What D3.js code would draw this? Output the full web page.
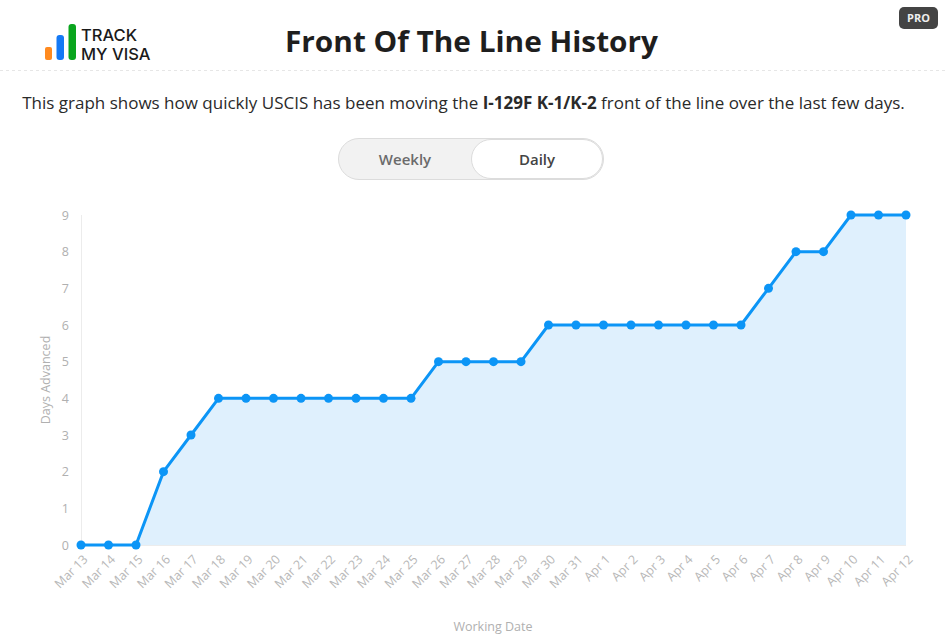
<!DOCTYPE html>
<html><head><meta charset="utf-8">
<script src="https://cdn.jsdelivr.net/npm/d3@7"></script>
<style>
body{margin:0;background:#fff;}
svg{display:block;}
</style></head>
<body>
<svg id="c" width="945" height="640"></svg>
<script>
const dates = ["Mar 13","Mar 14","Mar 15","Mar 16","Mar 17","Mar 18","Mar 19","Mar 20","Mar 21","Mar 22","Mar 23","Mar 24","Mar 25","Mar 26","Mar 27","Mar 28","Mar 29","Mar 30","Mar 31","Apr 1","Apr 2","Apr 3","Apr 4","Apr 5","Apr 6","Apr 7","Apr 8","Apr 9","Apr 10","Apr 11","Apr 12"];
const daysAdvanced = [0,0,0,2,3,4,4,4,4,4,4,4,4,5,5,5,5,6,6,6,6,6,6,6,6,7,8,8,9,9,9];
const yTicks = [0,1,2,3,4,5,6,7,8,9];

const svg = d3.select("#c");
const font = "'Open Sans', 'Noto Sans', sans-serif";

// Logo
const logo = svg.append("g");
logo.append("rect").attr("x",45).attr("y",47).attr("width",7).attr("height",13).attr("rx",2).attr("fill","#ff8a1f");
logo.append("rect").attr("x",56.5).attr("y",35).attr("width",7.5).attr("height",25).attr("rx",3).attr("fill","#1479f5");
logo.append("rect").attr("x",68.5).attr("y",24).attr("width",7.5).attr("height",36).attr("rx",3).attr("fill","#0aa51e");
logo.append("text").attr("x",81).attr("y",41).text("TRACK").attr("font-family","Inter, 'Noto Sans', sans-serif").attr("font-size",16.5).attr("font-weight",500).attr("fill","#1a1a1a");
logo.append("text").attr("x",81).attr("y",60).text("MY VISA").attr("font-family","Inter, 'Noto Sans', sans-serif").attr("font-size",16.5).attr("font-weight",500).attr("fill","#1a1a1a");

// PRO badge
svg.append("rect").attr("x",899).attr("y",7).attr("width",39).attr("height",22).attr("rx",5).attr("fill","#444");
svg.append("text").attr("x",918.5).attr("y",22).attr("text-anchor","middle").text("PRO").attr("font-family",font).attr("font-size",11).attr("font-weight",700).attr("fill","#eee");

// Title
svg.append("text").attr("x",471.5).attr("y",52).attr("text-anchor","middle").text("Front Of The Line History")
  .attr("font-family",font).attr("font-size",28.5).attr("font-weight",700).attr("fill","#1e1e1e")
  .attr("textLength",373).attr("lengthAdjust","spacingAndGlyphs");

// dotted separator
svg.append("line").attr("x1",0).attr("x2",945).attr("y1",70.5).attr("y2",70.5).attr("stroke","#e6e6e6").attr("stroke-dasharray","3,3");

// Subtitle
const sub = svg.append("text").attr("x",463.5).attr("y",109).attr("text-anchor","middle")
  .attr("font-family",font).attr("font-size",17).attr("fill","#2a2a2a");
sub.append("tspan").text("This graph shows how quickly USCIS has been moving the ");
sub.append("tspan").attr("font-weight",700).text("I-129F K-1/K-2");
sub.append("tspan").text(" front of the line over the last few days.");

// Toggle
svg.append("rect").attr("x",338.5).attr("y",138.5).attr("width",265).attr("height",41).attr("rx",20.5).attr("fill","#f2f2f2").attr("stroke","#dcdcdc");
svg.append("rect").attr("x",471.5).attr("y",139.5).attr("width",131).attr("height",39).attr("rx",19.5).attr("fill","#fff").attr("stroke","#dcdcdc");
svg.append("text").attr("x",405).attr("y",165).attr("text-anchor","middle").text("Weekly").attr("font-family",font).attr("font-size",15).attr("font-weight",600).attr("fill","#6b6b6b");
svg.append("text").attr("x",537).attr("y",165).attr("text-anchor","middle").text("Daily").attr("font-family",font).attr("font-size",15).attr("font-weight",600).attr("fill","#444");

// Chart
const x = d3.scalePoint().domain(dates).range([81,906]);
const y = d3.scaleLinear().domain([0,9]).range([545,215]);

const g = svg.append("g");
g.append("line").attr("x1",81.5).attr("x2",81.5).attr("y1",215).attr("y2",545).attr("stroke","#ececec");
g.append("line").attr("x1",81).attr("x2",906).attr("y1",545.5).attr("y2",545.5).attr("stroke","#ececec");

const area = d3.area().x((d,i)=>x(dates[i])).y0(y(0)).y1(d=>y(d));
g.append("path").datum(daysAdvanced).attr("d",area).attr("fill","#dff0fd");

const line = d3.line().x((d,i)=>x(dates[i])).y(d=>y(d));
g.append("path").datum(daysAdvanced).attr("d",line).attr("fill","none").attr("stroke","#0c95f6").attr("stroke-width",3).attr("stroke-linejoin","round");

g.selectAll("circle.pt").data(daysAdvanced).join("circle").attr("class","pt")
  .attr("cx",(d,i)=>x(dates[i])).attr("cy",d=>y(d)).attr("r",4.5).attr("fill","#0c95f6");

const yAxis = d3.axisLeft(y).tickValues(yTicks).tickSize(0).tickPadding(12);
const ya = g.append("g").attr("transform","translate(81,0)").call(yAxis);
ya.select(".domain").remove();
ya.selectAll("text").attr("font-family",font).attr("font-size",12.5).attr("fill","#b0b0b0");

const xAxis = d3.axisBottom(x).tickSize(0).tickPadding(8);
const xa = g.append("g").attr("transform","translate(0,545)").call(xAxis);
xa.select(".domain").remove();
xa.selectAll("text").attr("font-family",font).attr("font-size",12.5).attr("fill","#b8b8b8")
  .attr("text-anchor","end").attr("dy","0.35em").attr("transform","translate(4,12) rotate(-45)").attr("y",0).attr("x",0);

svg.append("text").attr("transform","translate(50,380) rotate(-90)").attr("text-anchor","middle")
  .text("Days Advanced").attr("font-family",font).attr("font-size",12.5).attr("fill","#b0b0b0");
svg.append("text").attr("x",493).attr("y",631).attr("text-anchor","middle")
  .text("Working Date").attr("font-family",font).attr("font-size",12.5).attr("fill","#b0b0b0");
</script>
</body></html>
